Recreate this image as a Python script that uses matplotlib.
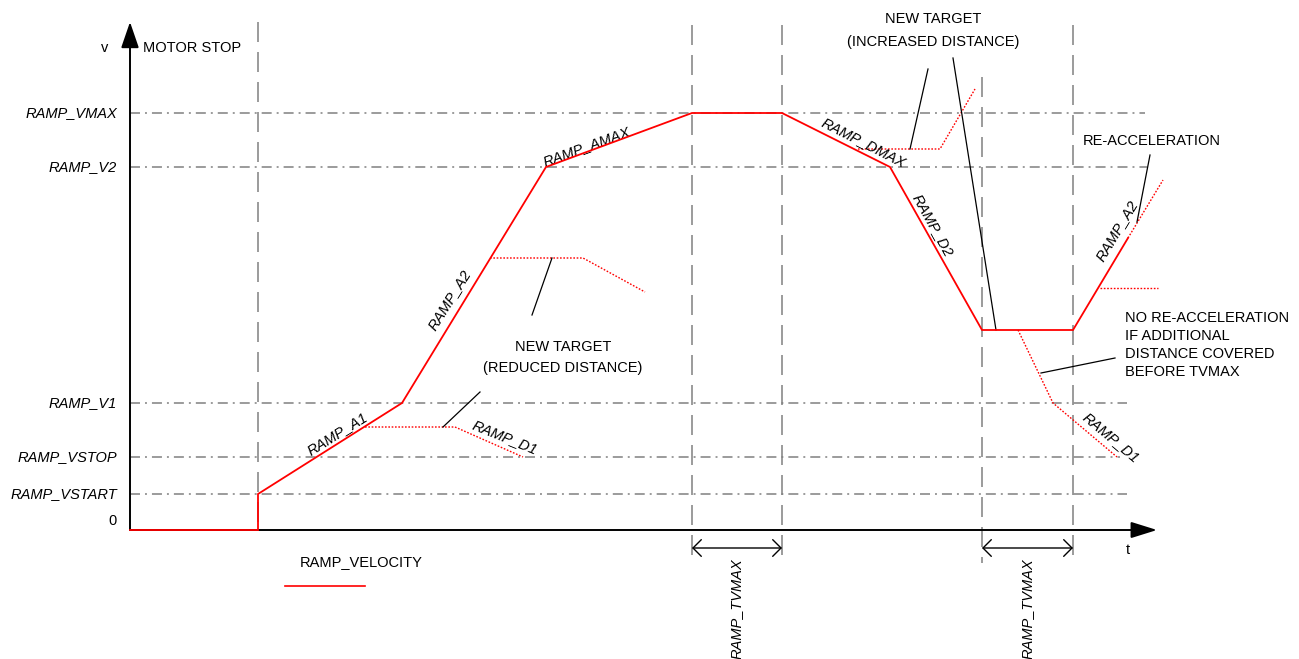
import matplotlib
matplotlib.use("Agg")
import matplotlib.pyplot as plt

plt.rcParams["font.family"] = ["Liberation Sans", "DejaVu Sans"]
plt.rcParams["font.size"] = 10.5
plt.rcParams["lines.scale_dashes"] = False

# velocity levels (arbitrary units)
level_names = ["RAMP_VSTART", "RAMP_VSTOP", "RAMP_V1", "RAMP_V2", "RAMP_VMAX"]
level_values = [36, 73, 127, 363, 417]
level_ends = [997, 990, 997, 1017, 1015]

# main velocity profile
profile_t = [0, 128, 128, 272, 416, 562, 652, 760, 852, 943, 998]
profile_v = [0, 0, 36, 127, 363, 417, 417, 363, 200, 200, 292]

# alternative (dotted) branches
reduced1_t = [235, 325, 393]
reduced1_v = [103, 103, 73]
reduced2_t = [360, 453, 515]
reduced2_v = [272, 272, 238]
increased_t = [728, 810, 845]
increased_v = [381, 381, 441]
no_reacc_t = [888, 923, 987]
no_reacc_v = [200, 127, 73]
reacc_t = [998, 1033]
reacc_v = [292, 350]
reacc_flat_t = [970, 1028]
reacc_flat_v = [242, 242]

# event times marked by vertical guides: (t, top, bottom)
guides = [(128, 508, 0), (562, 505, -33), (652, 505, -33), (852, 453, -33), (943, 505, -33)]
tvmax_spans = [(562, 652), (852, 943)]

# leader lines for the notes
leaders = [
    ([313, 350], [103, 138]),
    ([402, 422], [215, 272]),
    ([780, 798], [381, 461]),
    ([823, 866], [472, 200]),
    ([1007, 1020], [308, 375]),
    ([911, 985], [157, 172]),
]

# segment labels: text, t, v, angle
seg_labels = [
    ("RAMP_A1", 207, 96, 32),
    ("RAMP_A2", 320, 230, 58),
    ("RAMP_D1", 375, 93, -22),
    ("RAMP_AMAX", 457, 383, 20),
    ("RAMP_DMAX", 734, 387, -27),
    ("RAMP_D2", 803, 305, -61),
    ("RAMP_A2", 987, 299, 59),
    ("RAMP_D1", 981, 92, -40),
]

fig = plt.figure(figsize=(12.99, 6.59), dpi=100)
ax = fig.add_axes([0, 0, 1, 1])
ax.set_xlim(-130, 1169)
ax.set_ylim(-129, 530)
ax.axis("off")

gray = "#808080"
red = "#ff0000"

for name, val, end in zip(level_names, level_values, level_ends):
    ax.plot([0, end], [val, val], color=gray, lw=1.1, ls=(0, (7.2, 3.6, 1.4, 3.6)))
    ax.text(-13, val, name, ha="right", va="center", style="italic")
ax.text(-13, 9, "0", ha="right", va="center")

# dashes start at the top of each guide
for t, top, bottom in guides:
    ax.plot([t, t], [top, bottom], color=gray, lw=1.1, ls=(0, (14.4, 7.2)))

# axes with filled arrow heads
ax.annotate("", xy=(0, 508), xytext=(0, 0),
            arrowprops=dict(arrowstyle="-|>,head_length=1.6,head_width=0.55",
                            mutation_scale=10, color="black", lw=1.4,
                            shrinkA=0, shrinkB=0))
ax.annotate("", xy=(1027, 0), xytext=(0, 0),
            arrowprops=dict(arrowstyle="-|>,head_length=1.6,head_width=0.5",
                            mutation_scale=10, color="black", lw=1.4,
                            shrinkA=0, shrinkB=0))
ax.text(-25, 482, "v", ha="center", va="center")
ax.text(13, 482, "MOTOR STOP", ha="left", va="center")
ax.text(998, -20, "t", ha="center", va="center")

ax.plot(profile_t, profile_v, color=red, lw=1.3, solid_joinstyle="miter", zorder=5)
dot = (0, (1.2, 1.2))
for tt, vv in [(reduced1_t, reduced1_v), (reduced2_t, reduced2_v),
               (increased_t, increased_v), (no_reacc_t, no_reacc_v),
               (reacc_t, reacc_v), (reacc_flat_t, reacc_flat_v)]:
    ax.plot(tt, vv, color=red, lw=1.0, ls=dot)

for tt, vv in leaders:
    ax.plot(tt, vv, color="black", lw=0.9)

for text, t, v, ang in seg_labels:
    ax.text(t, v, text, ha="center", va="center", rotation=ang,
            rotation_mode="anchor", style="italic")

ax.text(433, 183, "NEW TARGET", ha="center", va="center")
ax.text(433, 162, "(REDUCED DISTANCE)", ha="center", va="center")
ax.text(803, 511, "NEW TARGET", ha="center", va="center")
ax.text(803, 488, "(INCREASED DISTANCE)", ha="center", va="center")
ax.text(953, 389, "RE-ACCELERATION", ha="left", va="center")
ax.text(995, 219, "NO RE-ACCELERATION\nIF ADDITIONAL\nDISTANCE COVERED\nBEFORE TVMAX",
        ha="left", va="top", linespacing=1.35)

for t0, t1 in tvmax_spans:
    ax.annotate("", xy=(t1, -18), xytext=(t0, -18),
                arrowprops=dict(arrowstyle="<->,head_length=0.6,head_width=0.6",
                                mutation_scale=10, color="black", lw=1.0,
                                shrinkA=0, shrinkB=0))
    ax.text((t0 + t1) / 2, -28, "RAMP_TVMAX", ha="center", va="top",
            rotation=90, style="italic")

ax.text(170, -32, "RAMP_VELOCITY", ha="left", va="center")
ax.plot([155, 235], [-56, -56], color=red, lw=1.2)

fig.savefig("out.png", dpi=100)
